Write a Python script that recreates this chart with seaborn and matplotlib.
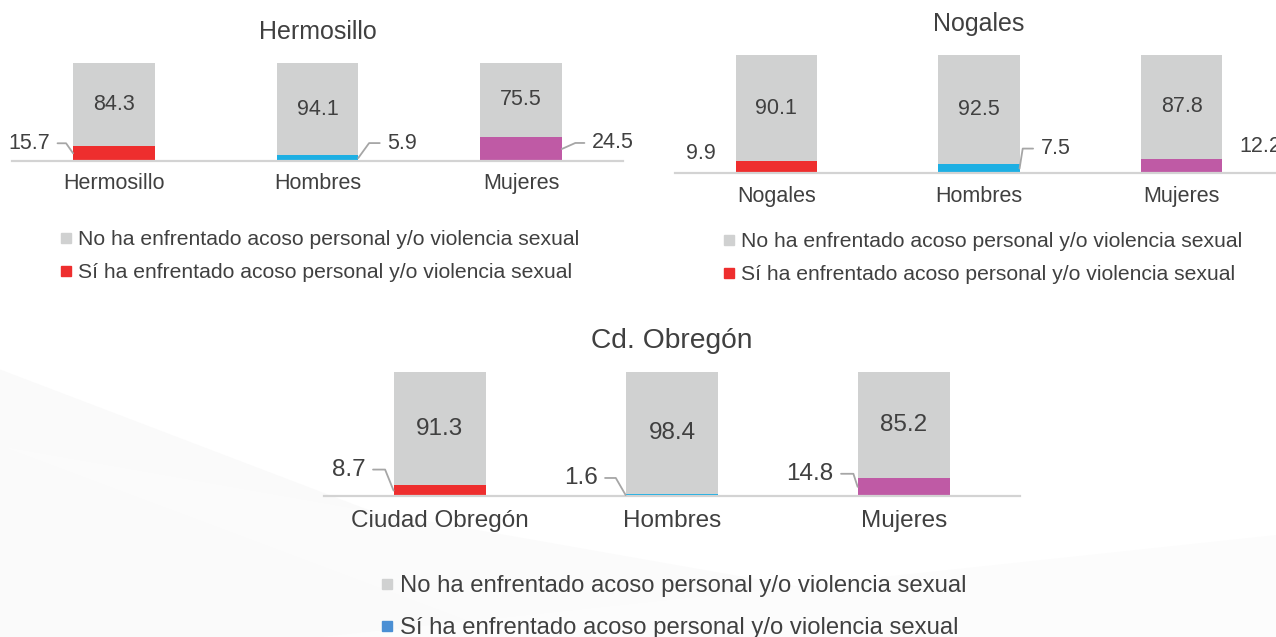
import pandas as pd
import seaborn as sns
import matplotlib.pyplot as plt
from matplotlib.lines import Line2D
from matplotlib.patches import Polygon

sns.set_theme(style="white")
plt.rcParams["font.family"] = ["Liberation Sans", "DejaVu Sans"]

TEXT = "#404040"
GRAY = "#D0D1D1"
AXIS = "#D3D3D3"
LEADER = "#A6A6A6"
RED = "#EE2E2E"
CYAN = "#1DAFE3"
MAGENTA = "#BF5AA5"
BLUE = "#4A8FD4"

no_label = "No ha enfrentado acoso personal y/o violencia sexual"
si_label = "Sí ha enfrentado acoso personal y/o violencia sexual"

# Hermosillo
hmo_cats = ["Hermosillo", "Hombres", "Mujeres"]
hmo_no = [84.3, 94.1, 75.5]
hmo_si = [15.7, 5.9, 24.5]

# Nogales
nog_cats = ["Nogales", "Hombres", "Mujeres"]
nog_no = [90.1, 92.5, 87.8]
nog_si = [9.9, 7.5, 12.2]

# Cd. Obregón
obr_cats = ["Ciudad Obregón", "Hombres", "Mujeres"]
obr_no = [91.3, 98.4, 85.2]
obr_si = [8.7, 1.6, 14.8]

fig = plt.figure(figsize=(12.76, 6.37), dpi=100)

# very faint diagonal bands of the slide background
for pts, c in [([(0, 0.42), (0.55, 0.0), (0.0, 0.0)], "#FAFAFA"),
               ([(0, 0.30), (0.85, 0.0), (0.40, 0.0)], "#FBFBFB"),
               ([(0.25, 0.0), (1.0, 0.16), (1.0, 0.0)], "#FCFCFC")]:
    fig.patches.append(Polygon(pts, closed=True, transform=fig.transFigure,
                               facecolor=c, edgecolor="none", zorder=-10))


def panel(rect, title, cats, no, si, label_pos, legend_at, legend_color,
          scale, spacing):
    ax = fig.add_axes(rect)
    ax.set_facecolor("none")
    df = pd.DataFrame({"cat": cats, "no": no, "si": si})
    df["total"] = df["no"] + df["si"]

    sns.barplot(data=df, x="cat", y="total", color=GRAY, width=0.4,
                saturation=1, linewidth=0, ax=ax)
    sns.barplot(data=df, x="cat", y="si", hue="cat",
                palette=[RED, CYAN, MAGENTA], width=0.4, saturation=1,
                linewidth=0, dodge=False, legend=False, ax=ax)

    # gray segment values, centred in the gray part
    for i, row in df.iterrows():
        ax.text(i, row["si"] + row["no"] / 2, f"{row['no']:.1f}",
                ha="center", va="center", fontsize=15.5 * scale, color=TEXT)

    # coloured segment values, outside with leader lines
    for i, (v, (dx, dy, ang)) in enumerate(zip(si, label_pos)):
        edge = i + 0.2 if dx > 0 else i - 0.2
        arrow = None
        if ang is not None:
            arrow = dict(arrowstyle="-", color=LEADER, lw=1.3, shrinkA=3,
                         shrinkB=0,
                         connectionstyle=f"angle,angleA=0,angleB={ang},rad=0")
        ax.annotate(f"{v:.1f}", xy=(edge, v / 2), xytext=(dx, dy),
                    textcoords="offset pixels",
                    ha="left" if dx > 0 else "right", va="center",
                    fontsize=15.5 * scale, color=TEXT, arrowprops=arrow,
                    annotation_clip=False)

    ax.set_xlim(-0.5, 2.5)
    ax.set_ylim(0, 100)
    ax.set_yticks([])
    ax.set_xlabel("")
    ax.set_ylabel("")
    for s in ["left", "right", "top"]:
        ax.spines[s].set_visible(False)
    ax.spines["bottom"].set_color(AXIS)
    ax.spines["bottom"].set_linewidth(1.6)
    ax.tick_params(axis="x", length=0, pad=9 * scale, labelsize=15.5 * scale,
                   labelcolor=TEXT)
    ax.set_title(title, fontsize=18 * scale, color=TEXT, pad=17.5)

    handles = [
        Line2D([], [], marker="s", linestyle="", markersize=7 * scale,
               color=GRAY, label=no_label),
        Line2D([], [], marker="s", linestyle="", markersize=7 * scale,
               color=legend_color, label=si_label),
    ]
    ax.legend(handles=handles, loc="center left",
              bbox_to_anchor=(legend_at[0] / 1276, 1 - legend_at[1] / 637),
              bbox_transform=fig.transFigure, frameon=False,
              fontsize=15.2 * scale, handlelength=0.6, handletextpad=0.25,
              labelspacing=spacing, borderpad=0, borderaxespad=0,
              labelcolor=TEXT)
    return ax


panel([0.0094, 0.7473, 0.4788, 0.1538], "Hermosillo", hmo_cats, hmo_no, hmo_si,
      [(-23, 10, 125), (29, 15, 54), (30, 6, 24)], (60, 256), RED, 1.0, 0.66)
panel([0.529, 0.7284, 0.4765, 0.1852], "Nogales", nog_cats, nog_no, nog_si,
      [(-20, 14, None), (21, 20, 81), (17, 19, None)], (723, 258), RED, 1.0,
      0.66)
panel([0.2539, 0.2214, 0.5455, 0.1947], "Cd. Obregón", obr_cats, obr_no, obr_si,
      [(-28, 21, 112), (-28, 17, 120), (-24, 13, 108)], (380, 607), BLUE, 1.13,
      0.85)

fig.savefig("out.png", dpi=100)
